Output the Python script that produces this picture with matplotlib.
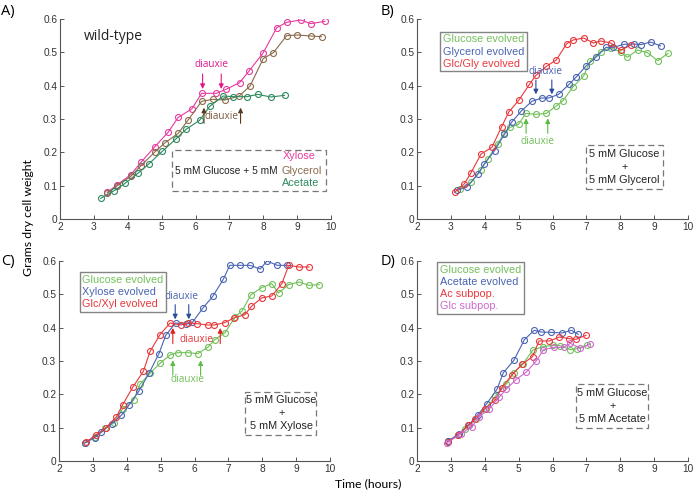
import matplotlib
matplotlib.use("Agg")
import matplotlib.pyplot as plt
from matplotlib.patches import Rectangle

plt.rcParams['font.family'] = ['Liberation Sans', 'DejaVu Sans']

# ---------------- data ----------------
# panel A, wild-type
a_xyl_t = [3.40, 3.69, 4.09, 4.39, 4.79, 5.19, 5.49, 5.89, 6.18, 6.61, 6.90, 7.30, 7.59, 8.00, 8.40, 8.69, 9.11, 9.40, 9.82]
a_xyl_w = [0.080, 0.103, 0.133, 0.170, 0.216, 0.260, 0.305, 0.330, 0.377, 0.377, 0.389, 0.409, 0.445, 0.499, 0.574, 0.590, 0.597, 0.586, 0.593]
a_gly_t = [3.40, 3.69, 4.09, 4.39, 4.79, 5.09, 5.49, 5.79, 6.18, 6.51, 6.87, 7.29, 7.61, 8.00, 8.30, 8.69, 9.01, 9.40, 9.72]
a_gly_w = [0.078, 0.100, 0.128, 0.160, 0.200, 0.228, 0.257, 0.298, 0.353, 0.359, 0.357, 0.369, 0.399, 0.481, 0.499, 0.550, 0.552, 0.549, 0.547]
a_ace_t = [3.20, 3.60, 3.92, 4.31, 4.62, 5.02, 5.42, 5.72, 6.12, 6.42, 6.82, 7.12, 7.52, 7.84, 8.22, 8.63]
a_ace_w = [0.062, 0.085, 0.107, 0.138, 0.165, 0.203, 0.240, 0.269, 0.296, 0.338, 0.369, 0.367, 0.367, 0.374, 0.366, 0.371]

# panel B, glucose + glycerol
b_glc_t = [3.26, 3.60, 3.89, 4.09, 4.38, 4.58, 4.75, 5.00, 5.21, 5.51, 5.82, 6.11, 6.31, 6.61, 6.92, 7.11, 7.42, 7.72, 8.02, 8.21, 8.51, 8.80, 9.11, 9.41]
b_glc_w = [0.090, 0.110, 0.148, 0.180, 0.226, 0.257, 0.275, 0.284, 0.317, 0.314, 0.317, 0.339, 0.355, 0.397, 0.429, 0.474, 0.502, 0.514, 0.500, 0.485, 0.507, 0.499, 0.475, 0.497]
b_gly_t = [3.18, 3.47, 3.80, 3.99, 4.29, 4.58, 4.79, 5.08, 5.39, 5.68, 5.89, 6.18, 6.49, 6.69, 6.99, 7.29, 7.58, 7.80, 8.11, 8.41, 8.60, 8.90, 9.19]
b_gly_w = [0.086, 0.096, 0.135, 0.166, 0.205, 0.254, 0.290, 0.324, 0.353, 0.363, 0.363, 0.374, 0.404, 0.425, 0.459, 0.486, 0.515, 0.515, 0.524, 0.525, 0.523, 0.531, 0.519]
b_mix_t = [3.11, 3.40, 3.59, 3.89, 4.21, 4.50, 4.71, 5.01, 5.32, 5.51, 5.82, 6.11, 6.42, 6.61, 6.92, 7.21, 7.42, 7.72, 8.02, 8.31]
b_mix_w = [0.080, 0.106, 0.138, 0.195, 0.215, 0.277, 0.321, 0.357, 0.404, 0.431, 0.458, 0.477, 0.526, 0.537, 0.543, 0.528, 0.534, 0.528, 0.506, 0.522]

# panel C, glucose + xylose
c_glc_t = [2.76, 3.05, 3.35, 3.62, 3.88, 4.20, 4.39, 4.69, 4.99, 5.29, 5.50, 5.80, 6.10, 6.40, 6.60, 6.90, 7.20, 7.40, 7.67, 7.98, 8.28, 8.48, 8.78, 9.09, 9.38, 9.68]
c_glc_w = [0.054, 0.072, 0.098, 0.114, 0.157, 0.182, 0.230, 0.264, 0.294, 0.319, 0.325, 0.325, 0.322, 0.342, 0.364, 0.385, 0.432, 0.450, 0.499, 0.520, 0.532, 0.504, 0.529, 0.537, 0.527, 0.529]
c_xyl_t = [2.76, 3.05, 3.25, 3.55, 3.84, 4.06, 4.36, 4.66, 4.95, 5.15, 5.44, 5.75, 5.94, 6.25, 6.54, 6.85, 7.04, 7.33, 7.64, 7.94, 8.14, 8.44, 8.74]
c_xyl_w = [0.054, 0.070, 0.086, 0.112, 0.137, 0.167, 0.210, 0.264, 0.322, 0.377, 0.414, 0.410, 0.416, 0.459, 0.494, 0.545, 0.587, 0.587, 0.587, 0.576, 0.600, 0.587, 0.587]
c_mix_t = [2.80, 3.10, 3.39, 3.69, 3.88, 4.18, 4.49, 4.69, 4.98, 5.28, 5.59, 5.80, 6.08, 6.39, 6.58, 6.89, 7.18, 7.49, 7.68, 7.98, 8.28, 8.58, 8.78, 9.09, 9.38]
c_mix_w = [0.057, 0.079, 0.100, 0.132, 0.169, 0.222, 0.269, 0.329, 0.379, 0.414, 0.408, 0.414, 0.412, 0.408, 0.408, 0.415, 0.430, 0.439, 0.464, 0.489, 0.495, 0.532, 0.587, 0.582, 0.582]

# panel D, glucose + acetate
d_glc_t = [2.91, 3.21, 3.43, 3.73, 4.03, 4.31, 4.63, 4.85, 5.12, 5.42, 5.72, 6.01, 6.22, 6.53, 6.72, 7.01]
d_glc_w = [0.059, 0.079, 0.097, 0.125, 0.157, 0.194, 0.230, 0.265, 0.290, 0.333, 0.343, 0.347, 0.346, 0.334, 0.337, 0.347]
d_ace_t = [2.91, 3.24, 3.53, 3.80, 4.06, 4.36, 4.55, 4.86, 5.17, 5.46, 5.66, 5.96, 6.27, 6.56, 6.76]
d_ace_w = [0.059, 0.082, 0.109, 0.139, 0.172, 0.215, 0.265, 0.302, 0.364, 0.392, 0.387, 0.386, 0.384, 0.392, 0.380]
d_acs_t = [2.91, 3.21, 3.51, 3.71, 4.00, 4.31, 4.50, 4.80, 5.10, 5.41, 5.60, 5.91, 6.20, 6.49, 6.69, 6.99]
d_acs_w = [0.057, 0.077, 0.107, 0.125, 0.157, 0.183, 0.220, 0.258, 0.290, 0.313, 0.360, 0.360, 0.372, 0.367, 0.365, 0.377]
d_gls_t = [2.89, 3.29, 3.62, 3.82, 4.14, 4.43, 4.63, 4.92, 5.23, 5.52, 5.73, 6.03, 6.33, 6.53, 6.82, 7.12]
d_gls_w = [0.055, 0.082, 0.102, 0.132, 0.157, 0.192, 0.215, 0.244, 0.267, 0.300, 0.333, 0.341, 0.341, 0.353, 0.338, 0.351]

# colours
MAG, BRN, TEAL = '#e63a9e', '#8a6a4c', '#2e8a5e'
GRN, BLU, RED, PUR = '#72c05a', '#4a64b4', '#e8383c', '#cc6acc'

W, H = 696, 497
fig = plt.figure(figsize=(W / 100, H / 100), dpi=100)


def mkax(left, top):
    ax = fig.add_axes([left / W, 1 - (top + 200) / H, 271 / W, 200 / H])
    ax.set_xlim(2, 10)
    ax.set_ylim(0, 0.6)
    ax.set_xticks(range(2, 11))
    ax.set_yticks([0, 0.1, 0.2, 0.3, 0.4, 0.5, 0.6])
    ax.set_yticklabels(['0', '0.1', '0.2', '0.3', '0.4', '0.5', '0.6'])
    for s in ['top', 'right']:
        ax.spines[s].set_visible(False)
    for s in ['left', 'bottom']:
        ax.spines[s].set_color('#555555')
        ax.spines[s].set_linewidth(0.8)
    ax.tick_params(direction='in', length=3, width=0.7, color='#555555',
                   labelsize=7.3, labelcolor='#333333', pad=2)
    ax.patch.set_alpha(0)
    return ax


def series(ax, t, w, c):
    ax.plot(t, w, '-o', color=c, mfc='none', mec=c, ms=4.3, lw=0.8, mew=0.8)


def arrow(ax, x, y0, y1, c):
    ax.annotate('', xy=(x, y1), xytext=(x, y0),
                arrowprops=dict(arrowstyle='-|>', color=c, lw=0.8,
                                mutation_scale=7, shrinkA=0, shrinkB=0))


def label(ax, x, y, s, c):
    ax.text(x, y, s, color=c, fontsize=7.2, family=['Open Sans', 'DejaVu Sans'],
            ha='center', va='center')


def legend_box(ax, x0, y0, names, colors, lines):
    leg = ax.legend(lines, names, loc='upper left', bbox_to_anchor=(x0, y0),
                    bbox_transform=ax.transData, handlelength=0, handletextpad=0,
                    labelcolor=colors, fontsize=7.8, frameon=True, fancybox=False,
                    borderpad=0.25, labelspacing=0.2, borderaxespad=0)
    for h in leg.legend_handles:
        h.set_visible(False)
    leg.get_frame().set_edgecolor('#666666')
    leg.get_frame().set_linewidth(1.0)


def dashed_box(ax, x0, x1, y0, y1):
    ax.add_patch(Rectangle((x0, y0), x1 - x0, y1 - y0, fill=False, ls=(0, (5, 3)),
                           ec='#777777', lw=0.9))


# ---------- A ----------
axA = mkax(60, 19)
series(axA, a_xyl_t, a_xyl_w, MAG)
series(axA, a_gly_t, a_gly_w, BRN)
series(axA, a_ace_t, a_ace_w, TEAL)
arrow(axA, 6.21, 0.435, 0.390, '#e0178c')
arrow(axA, 6.76, 0.435, 0.390, '#e0178c')
label(axA, 6.48, 0.462, 'diauxie', '#e0178c')
arrow(axA, 6.25, 0.287, 0.334, '#5a3a1e')
arrow(axA, 7.33, 0.287, 0.334, '#5a3a1e')
label(axA, 6.78, 0.307, 'diauxie', '#7a5a3e')
axA.text(2.71, 0.548, 'wild-type', fontsize=10, family=['Open Sans', 'DejaVu Sans'],
         color='#222222', va='center')
dashed_box(axA, 5.30, 9.85, 0.085, 0.208)
axA.text(5.40, 0.145, '5 mM Glucose + 5 mM', fontsize=7.3, color='#222222', va='center')
axA.text(9.56, 0.188, 'Xylose', fontsize=7.8, color=MAG, va='center', ha='right')
axA.text(9.74, 0.145, 'Glycerol', fontsize=7.8, color=BRN, va='center', ha='right')
axA.text(9.66, 0.109, 'Acetate', fontsize=7.8, color=TEAL, va='center', ha='right')

# ---------- B ----------
axB = mkax(417, 19)
series(axB, b_glc_t, b_glc_w, GRN)
series(axB, b_gly_t, b_gly_w, BLU)
series(axB, b_mix_t, b_mix_w, RED)
lB = axB.lines[:]
arrow(axB, 5.51, 0.417, 0.374, '#2b4c9b')
arrow(axB, 5.98, 0.417, 0.374, '#2b4c9b')
label(axB, 5.78, 0.442, 'diauxie', BLU)
arrow(axB, 5.22, 0.257, 0.302, '#5dbb46')
arrow(axB, 5.86, 0.257, 0.302, '#5dbb46')
label(axB, 5.55, 0.234, 'diauxie', GRN)
legend_box(axB, 2.69, 0.562, ['Glucose evolved', 'Glycerol evolved', 'Glc/Gly evolved'],
           [GRN, BLU, RED], lB)
dashed_box(axB, 6.99, 9.25, 0.090, 0.221)
axB.text(8.12, 0.156, '5 mM Glucose\n+\n5 mM Glycerol', fontsize=7.8, color='#222222',
         ha='center', va='center', multialignment='center', linespacing=1.35)

# ---------- C ----------
axC = mkax(59, 261)
series(axC, c_glc_t, c_glc_w, GRN)
series(axC, c_xyl_t, c_xyl_w, BLU)
series(axC, c_mix_t, c_mix_w, RED)
lC = axC.lines[:]
arrow(axC, 5.43, 0.469, 0.425, '#2b4c9b')
arrow(axC, 5.83, 0.469, 0.425, '#2b4c9b')
label(axC, 5.63, 0.494, 'diauxie', BLU)
arrow(axC, 5.36, 0.352, 0.399, '#e0201e')
arrow(axC, 6.76, 0.352, 0.399, '#e0201e')
label(axC, 6.05, 0.366, 'diauxie', RED)
arrow(axC, 5.36, 0.257, 0.302, '#5dbb46')
arrow(axC, 6.18, 0.257, 0.302, '#5dbb46')
label(axC, 5.78, 0.243, 'diauxie', GRN)
legend_box(axC, 2.61, 0.567, ['Glucose evolved', 'Xylose evolved', 'Glc/Xyl evolved'],
           [GRN, BLU, RED], lC)
dashed_box(axC, 7.49, 9.60, 0.077, 0.207)
axC.text(8.56, 0.144, '5 mM Glucose\n+\n5 mM Xylose', fontsize=7.8, color='#222222',
         ha='center', va='center', multialignment='center', linespacing=1.35)

# ---------- D ----------
axD = mkax(417, 261)
series(axD, d_glc_t, d_glc_w, GRN)
series(axD, d_ace_t, d_ace_w, BLU)
series(axD, d_acs_t, d_acs_w, RED)
series(axD, d_gls_t, d_gls_w, PUR)
lD = axD.lines[:]
legend_box(axD, 2.59, 0.597, ['Glucose evolved', 'Acetate evolved', 'Ac subpop.', 'Glc subpop.'],
           [GRN, BLU, RED, PUR], lD)
dashed_box(axD, 6.69, 8.83, 0.100, 0.230)
axD.text(7.77, 0.165, '5 mM Glucose\n+\n5 mM Acetate', fontsize=7.8, color='#222222',
         ha='center', va='center', multialignment='center', linespacing=1.35)

# panel letters and shared labels
lf = ['Open Sans', 'DejaVu Sans']
fig.text(1 / W, 1 - 12 / H, 'A)', fontsize=10.5, family=lf, va='center')
fig.text(381 / W, 1 - 12 / H, 'B)', fontsize=10.5, family=lf, va='center')
fig.text(1 / W, 1 - 261 / H, 'C)', fontsize=10.5, family=lf, va='center')
fig.text(381 / W, 1 - 261 / H, 'D)', fontsize=10.5, family=lf, va='center')
fig.text(28 / W, 1 - 218 / H, 'Grams dry cell weight', fontsize=8.8, family=['Lato', 'DejaVu Sans'],
         rotation=90, ha='center', va='center')
fig.text(368 / W, 1 - 484 / H, 'Time (hours)', fontsize=8.8, family=['Lato', 'DejaVu Sans'],
         ha='center', va='center')

fig.savefig('out.png', dpi=100)
